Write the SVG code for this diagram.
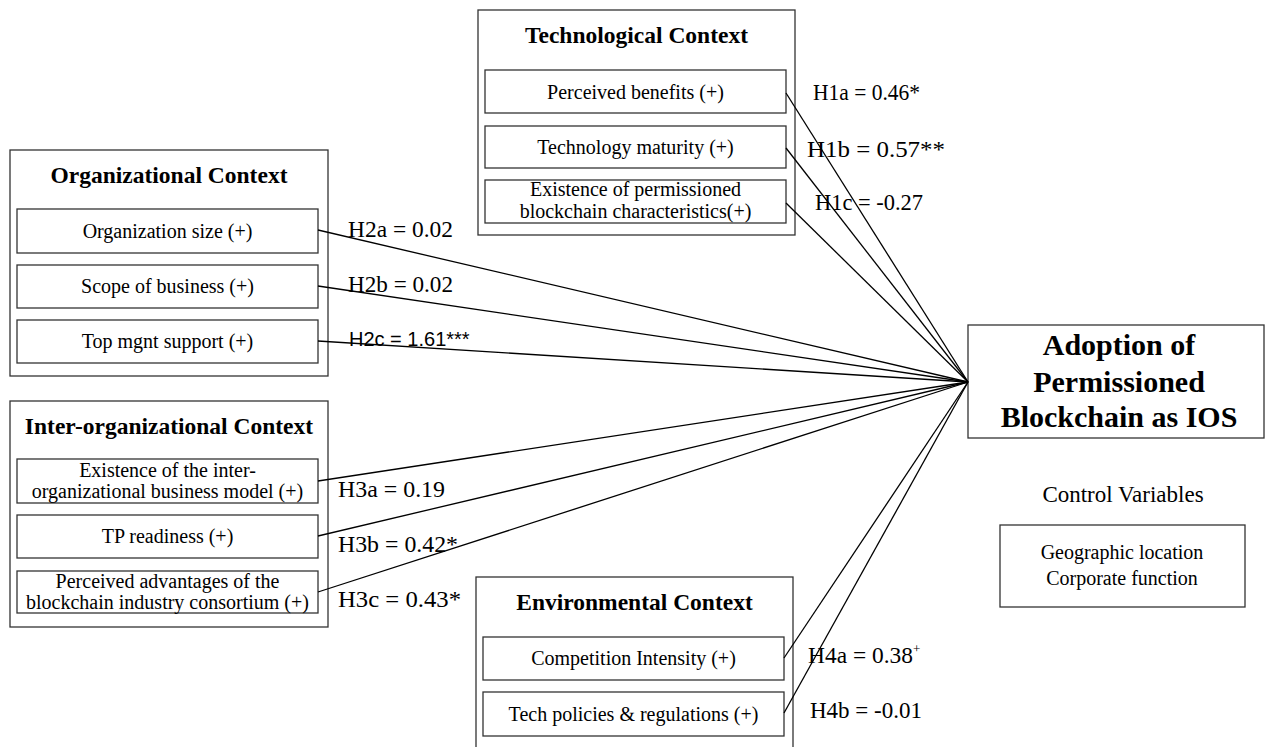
<svg xmlns="http://www.w3.org/2000/svg" width="1268" height="747" viewBox="0 0 1268 747">
<style>
.box{fill:#fff;stroke:#333;stroke-width:1.3}
.title{font-family:"Liberation Serif","Times New Roman",serif;font-weight:bold;font-size:23.5px;text-anchor:middle;fill:#000}
.item{font-family:"Liberation Serif","Times New Roman",serif;font-size:20px;text-anchor:middle;fill:#000}
.lbl{font-family:"Liberation Serif","Times New Roman",serif;font-size:23px;fill:#000}
.lbls{font-family:"Liberation Sans",Arial,sans-serif;font-size:20px;fill:#000}
.conn line{stroke:#000;stroke-width:1.3}
</style>
<rect width="1268" height="747" fill="#fff"/>

<g id="technological">
<rect class="box" x="478" y="10" width="317" height="225"/>
<text class="title" x="636.5" y="43">Technological Context</text>
<rect class="box" x="485" y="70" width="301" height="43"/>
<text class="item" x="635.5" y="98.5">Perceived benefits (+)</text>
<rect class="box" x="485" y="126" width="301" height="42"/>
<text class="item" x="635.5" y="154">Technology maturity (+)</text>
<rect class="box" x="485" y="180" width="301" height="43"/>
<text class="item" x="635.5" y="196">Existence of permissioned</text>
<text class="item" x="635.5" y="218">blockchain characteristics(+)</text>
</g>

<g id="organizational">
<rect class="box" x="10" y="150" width="318" height="226"/>
<text class="title" x="169" y="183">Organizational Context</text>
<rect class="box" x="17" y="209" width="301" height="44"/>
<text class="item" x="167.5" y="238">Organization size (+)</text>
<rect class="box" x="17" y="265" width="301" height="43"/>
<text class="item" x="167.5" y="293">Scope of business (+)</text>
<rect class="box" x="17" y="320" width="301" height="43"/>
<text class="item" x="167.5" y="348">Top mgnt support (+)</text>
</g>

<g id="interorganizational">
<rect class="box" x="10" y="401" width="318" height="226"/>
<text class="title" x="169" y="434">Inter-organizational Context</text>
<rect class="box" x="17" y="459" width="301" height="44"/>
<text class="item" x="167.5" y="477">Existence of the inter-</text>
<text class="item" x="167.5" y="498">organizational business model (+)</text>
<rect class="box" x="17" y="515" width="301" height="43"/>
<text class="item" x="167.5" y="543">TP readiness (+)</text>
<rect class="box" x="17" y="571" width="301" height="42"/>
<text class="item" x="167.5" y="588">Perceived advantages of the</text>
<text class="item" x="167.5" y="609">blockchain industry consortium (+)</text>
</g>

<g id="environmental">
<rect class="box" x="476" y="577" width="317" height="190"/>
<text class="title" x="634.5" y="610">Environmental Context</text>
<rect class="box" x="483" y="637" width="301" height="43"/>
<text class="item" x="633.5" y="665">Competition Intensity (+)</text>
<rect class="box" x="483" y="692" width="301" height="44"/>
<text class="item" x="633.5" y="721">Tech policies &amp; regulations (+)</text>
</g>

<g id="adoption">
<rect class="box" x="968" y="325" width="296" height="113"/>
<text class="title" style="font-size:30px" x="1119" y="355">Adoption of</text>
<text class="title" style="font-size:30px" x="1119" y="392">Permissioned</text>
<text class="title" style="font-size:30px" x="1119" y="427">Blockchain as IOS</text>
</g>

<g id="controls">
<text class="item" style="font-size:23px" x="1123" y="502">Control Variables</text>
<rect class="box" x="1000" y="525" width="245" height="82"/>
<text class="item" x="1122" y="559">Geographic location</text>
<text class="item" x="1122" y="585">Corporate function</text>
</g>

<g id="connectors" class="conn">
<line x1="786" y1="93" x2="968" y2="382"/>
<line x1="786" y1="148" x2="968" y2="382"/>
<line x1="786" y1="203" x2="968" y2="382"/>
<line x1="318" y1="230" x2="968" y2="382"/>
<line x1="318" y1="286" x2="968" y2="382"/>
<line x1="318" y1="341" x2="968" y2="382"/>
<line x1="318" y1="481" x2="968" y2="382"/>
<line x1="318" y1="536" x2="968" y2="382"/>
<line x1="318" y1="592" x2="968" y2="382"/>
<line x1="784" y1="658" x2="968" y2="382"/>
<line x1="784" y1="713" x2="968" y2="382"/>
</g>

<g id="labels">
<text class="lbl" x="813" y="100" textLength="107" lengthAdjust="spacingAndGlyphs">H1a = 0.46*</text>
<text class="lbl" x="807" y="157" textLength="138" lengthAdjust="spacingAndGlyphs">H1b = 0.57**</text>
<text class="lbl" x="815" y="210" textLength="108" lengthAdjust="spacingAndGlyphs">H1c = -0.27</text>
<text class="lbl" x="348" y="237" textLength="105" lengthAdjust="spacingAndGlyphs">H2a = 0.02</text>
<text class="lbl" x="348" y="292" textLength="105" lengthAdjust="spacingAndGlyphs">H2b = 0.02</text>
<text class="lbls" x="349" y="346">H2c = 1.61***</text>
<text class="lbl" x="338" y="497" textLength="107" lengthAdjust="spacingAndGlyphs">H3a = 0.19</text>
<text class="lbl" x="338" y="552" textLength="120" lengthAdjust="spacingAndGlyphs">H3b = 0.42*</text>
<text class="lbl" x="338" y="607" textLength="123" lengthAdjust="spacingAndGlyphs">H3c = 0.43*</text>
<text class="lbl" x="808" y="663"><tspan textLength="105" lengthAdjust="spacingAndGlyphs">H4a = 0.38</tspan><tspan font-size="13" dy="-10">+</tspan></text>
<text class="lbl" x="810" y="718" textLength="112" lengthAdjust="spacingAndGlyphs">H4b = -0.01</text>
</g>
</svg>
